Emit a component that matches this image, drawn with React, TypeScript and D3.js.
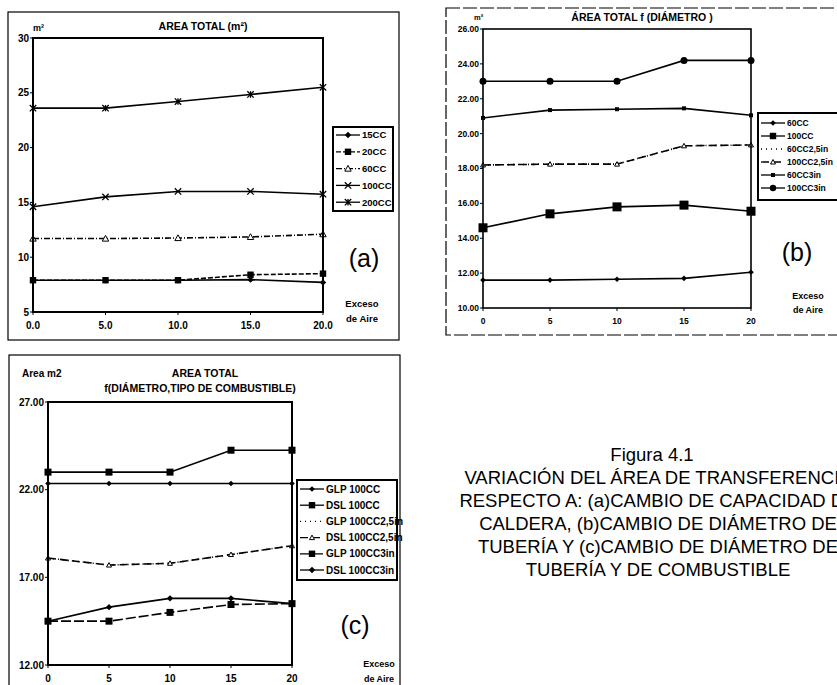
import React from "react";
import * as d3 from "d3";

// ---------- data ----------
const xValues = [0, 5, 10, 15, 20];

// (a) AREA TOTAL vs capacity
const a15CC = [7.9, 7.9, 7.9, 7.95, 7.7];
const a20CC = [7.9, 7.9, 7.9, 8.4, 8.5];
const a60CC = [11.7, 11.7, 11.75, 11.85, 12.1];
const a100CC = [14.6, 15.5, 16.0, 16.0, 15.75];
const a200CC = [23.6, 23.6, 24.2, 24.85, 25.5];
const aYTicks = [5, 10, 15, 20, 25, 30];

// (b) AREA TOTAL f(DIAMETRO)
const b60CC = [11.6, 11.6, 11.65, 11.7, 12.05];
const b100CC = [14.6, 15.4, 15.8, 15.9, 15.55];
const b60CC25 = [18.2, 18.25, 18.25, 19.3, 19.35];
const b100CC25 = [18.2, 18.25, 18.25, 19.3, 19.35];
const b60CC3 = [20.9, 21.35, 21.4, 21.45, 21.05];
const b100CC3 = [23.0, 23.0, 23.0, 24.2, 24.2];
const bYTicks = [10, 12, 14, 16, 18, 20, 22, 24, 26];

// (c) AREA TOTAL f(DIAMETRO, TIPO DE COMBUSTIBLE)
const cGLP100 = [22.35, 22.35, 22.35, 22.35, 22.35];
const cDSL100 = [23.0, 23.0, 23.0, 24.25, 24.25];
const cGLP25 = [18.1, 17.7, 17.8, 18.3, 18.8];
const cDSL25 = [18.1, 17.7, 17.8, 18.3, 18.8];
const cGLP3 = [14.5, 14.5, 15.0, 15.45, 15.5];
const cDSL3 = [14.5, 15.3, 15.8, 15.8, 15.5];
const cYTicks = [12, 17, 22, 27];

const captionLines = [
  "VARIACIÓN DEL ÁREA DE TRANSFERENCIA",
  "RESPECTO A: (a)CAMBIO DE CAPACIDAD DE",
  "CALDERA,  (b)CAMBIO DE DIÁMETRO DE",
  "TUBERÍA Y (c)CAMBIO DE DIÁMETRO DE",
  "TUBERÍA Y DE COMBUSTIBLE",
];

const FONT = "'Liberation Sans', Arial, sans-serif";

type Series = { name: string; values: number[]; marker: string; dash?: string; ms?: number };

function Marker({ type, x, y, s = 3.2 }: { type: string; x: number; y: number; s?: number }) {
  if (type === "diamond")
    return <path d={`M${x},${y - s}L${x + s},${y}L${x},${y + s}L${x - s},${y}Z`} fill="#000" />;
  if (type === "square") return <rect x={x - s} y={y - s} width={2 * s} height={2 * s} fill="#000" />;
  if (type === "triangle")
    return <path d={`M${x},${y - s}L${x + s},${y + s * 0.8}L${x - s},${y + s * 0.8}Z`} fill="#fff" stroke="#000" strokeWidth={1} />;
  if (type === "circle") return <circle cx={x} cy={y} r={s} fill="#000" />;
  if (type === "x")
    return <path d={`M${x - s},${y - s}L${x + s},${y + s}M${x - s},${y + s}L${x + s},${y - s}`} stroke="#000" strokeWidth={1.3} />;
  if (type === "star")
    return (
      <path
        d={`M${x - s},${y - s}L${x + s},${y + s}M${x - s},${y + s}L${x + s},${y - s}M${x},${y - s}L${x},${y + s}`}
        stroke="#000"
        strokeWidth={1.3}
      />
    );
  return null;
}

type ChartProps = {
  plot: { l: number; t: number; r: number; b: number };
  yDomain: [number, number];
  yTicks: number[];
  yFmt: (v: number) => string;
  xFmt: (v: number) => string;
  series: Series[];
  legend: { x: number; y: number; w: number; h: number; first: number; step: number; fs: number };
  tickFs: number;
  borderW: number;
};

function Chart({ plot, yDomain, yTicks, yFmt, xFmt, series, legend, tickFs, borderW }: ChartProps) {
  const x = d3.scaleLinear().domain([0, 20]).range([plot.l, plot.r]);
  const y = d3.scaleLinear().domain(yDomain).range([plot.b, plot.t]);
  const line = d3
    .line<number>()
    .x((_, i) => x(xValues[i]))
    .y((d) => y(d));
  const lx1 = legend.x + 3;
  const lx2 = legend.x + 27;
  return (
    <g>
      {series.map((s) => (
        <g key={s.name}>
          {s.values.length > 0 && (
            <path d={line(s.values) || ""} fill="none" stroke="#000" strokeWidth={1.6} strokeDasharray={s.dash} />
          )}
          {s.values.map((v, i) => (
            <Marker key={i} type={s.marker} x={x(xValues[i])} y={y(v)} s={s.ms} />
          ))}
        </g>
      ))}
      <rect x={plot.l} y={plot.t} width={plot.r - plot.l} height={plot.b - plot.t} fill="none" stroke="#000" strokeWidth={borderW} />
      {yTicks.map((t) => (
        <g key={t}>
          <line x1={plot.l - 3} x2={plot.l} y1={y(t)} y2={y(t)} stroke="#000" strokeWidth={1} />
          <text x={plot.l - 4} y={y(t)} dy="0.35em" textAnchor="end" fontSize={tickFs} fontWeight="bold" fontFamily={FONT}>
            {yFmt(t)}
          </text>
        </g>
      ))}
      {xValues.map((t) => (
        <g key={t}>
          <line x1={x(t)} x2={x(t)} y1={plot.b} y2={plot.b + 3} stroke="#000" strokeWidth={1} />
          <text x={x(t)} y={plot.b + 13} dy="0.35em" textAnchor="middle" fontSize={tickFs} fontWeight="bold" fontFamily={FONT}>
            {xFmt(t)}
          </text>
        </g>
      ))}
      <rect x={legend.x} y={legend.y} width={legend.w} height={legend.h} fill="#fff" stroke="#000" strokeWidth={2} />
      {series.map((s, i) => {
        const ly = legend.first + i * legend.step;
        return (
          <g key={s.name}>
            <line x1={lx1} x2={lx2} y1={ly} y2={ly} stroke="#000" strokeWidth={1.3} strokeDasharray={s.dash} />
            <Marker type={s.marker} x={(lx1 + lx2) / 2} y={ly} s={Math.min(s.ms || 3.2, 3.2)} />
            <text x={lx2 + 2} y={ly} dy="0.35em" fontSize={legend.fs} fontWeight="bold" fontFamily={FONT}>
              {s.name}
            </text>
          </g>
        );
      })}
    </g>
  );
}

export default function App() {
  const f1 = d3.format(".1f");
  const f2 = d3.format(".2f");
  const fi = d3.format("d");

  const seriesA: Series[] = [
    { name: "15CC", values: a15CC, marker: "diamond" },
    { name: "20CC", values: a20CC, marker: "square", dash: "5 2" },
    { name: "60CC", values: a60CC, marker: "triangle", dash: "6 2 1 2" },
    { name: "100CC", values: a100CC, marker: "x" },
    { name: "200CC", values: a200CC, marker: "star" },
  ];
  const seriesB: Series[] = [
    { name: "60CC", values: b60CC, marker: "diamond", ms: 2.8 },
    { name: "100CC", values: b100CC, marker: "square", ms: 4.5 },
    { name: "60CC2,5in", values: b60CC25, marker: "none", dash: "1 4" },
    { name: "100CC2,5in", values: b100CC25, marker: "triangle", dash: "8 4", ms: 2.5 },
    { name: "60CC3in", values: b60CC3, marker: "square", ms: 2 },
    { name: "100CC3in", values: b100CC3, marker: "circle", ms: 3.5 },
  ];
  const seriesC: Series[] = [
    { name: "GLP 100CC", values: cGLP100, marker: "diamond", ms: 2.8 },
    { name: "DSL 100CC", values: cDSL100, marker: "square", ms: 3.5 },
    { name: "GLP 100CC2,5in", values: cGLP25, marker: "none", dash: "1 4" },
    { name: "DSL 100CC2,5in", values: cDSL25, marker: "triangle", dash: "8 4", ms: 2.5 },
    { name: "GLP 100CC3in", values: cGLP3, marker: "square", dash: "10 3", ms: 3.5 },
    { name: "DSL 100CC3in", values: cDSL3, marker: "diamond", ms: 3.2 },
  ];

  return (
    <svg width={837} height={685} style={{ position: "absolute", left: 0, top: 0, background: "#fff" }}>
      <rect x={0} y={0} width={837} height={685} fill="#fff" />

      {/* ---------- (a) ---------- */}
      <rect x={8} y={12} width={391} height={328} fill="none" stroke="#000" strokeWidth={1.2} />
      <text x={203} y={30} textAnchor="middle" fontSize={10.5} fontWeight="bold" fontFamily={FONT}>
        AREA TOTAL (m²)
      </text>
      <text x={33} y={31} fontSize={9} fontWeight="bold" fontFamily={FONT}>
        m²
      </text>
      <Chart
        plot={{ l: 33, t: 38, r: 323, b: 312 }}
        yDomain={[5, 30]}
        yTicks={aYTicks}
        yFmt={fi}
        xFmt={f1}
        series={seriesA}
        legend={{ x: 333, y: 127, w: 60, h: 84, first: 135, step: 16.8, fs: 9.5 }}
        tickFs={10}
        borderW={2}
      />
      <text x={364} y={258} dy="0.35em" textAnchor="middle" fontSize={25} fontFamily={FONT}>
        (a)
      </text>
      <text x={362} y={307} textAnchor="middle" fontSize={9.5} fontWeight="bold" fontFamily={FONT}>
        Exceso
      </text>
      <text x={362} y={322} textAnchor="middle" fontSize={9.5} fontWeight="bold" fontFamily={FONT}>
        de Aire
      </text>

      {/* ---------- (b) ---------- */}
      <rect x={446} y={8} width={400} height={327} fill="none" stroke="#000" strokeWidth={1.2} strokeDasharray="14 3" />
      <text x={642} y={21} textAnchor="middle" fontSize={10.5} fontWeight="bold" fontFamily={FONT}>
        ÁREA TOTAL  f (DIÁMETRO )
      </text>
      <text x={474} y={20} fontSize={7.5} fontWeight="bold" fontFamily={FONT}>
        m²
      </text>
      <Chart
        plot={{ l: 483, t: 29, r: 751, b: 308 }}
        yDomain={[10, 26]}
        yTicks={bYTicks}
        yFmt={f2}
        xFmt={fi}
        series={seriesB}
        legend={{ x: 758, y: 113, w: 90, h: 87, first: 123, step: 13, fs: 8.5 }}
        tickFs={8.5}
        borderW={1.6}
      />
      <text x={797} y={252} dy="0.35em" textAnchor="middle" fontSize={25} fontFamily={FONT}>
        (b)
      </text>
      <text x={808} y={299} textAnchor="middle" fontSize={9} fontWeight="bold" fontFamily={FONT}>
        Exceso
      </text>
      <text x={808} y={313} textAnchor="middle" fontSize={9} fontWeight="bold" fontFamily={FONT}>
        de Aire
      </text>

      {/* ---------- (c) ---------- */}
      <rect x={9} y={355} width={391} height={340} fill="none" stroke="#000" strokeWidth={1.2} />
      <text x={22} y={377} fontSize={10} fontWeight="bold" fontFamily={FONT}>
        Area m2
      </text>
      <text x={205} y={377} textAnchor="middle" fontSize={10.5} fontWeight="bold" fontFamily={FONT}>
        AREA TOTAL
      </text>
      <text x={200} y={392} textAnchor="middle" fontSize={10.5} fontWeight="bold" fontFamily={FONT}>
        f(DIÁMETRO,TIPO DE COMBUSTIBLE)
      </text>
      <Chart
        plot={{ l: 48, t: 402, r: 292, b: 665 }}
        yDomain={[12, 27]}
        yTicks={cYTicks}
        yFmt={f2}
        xFmt={fi}
        series={seriesC}
        legend={{ x: 297, y: 480, w: 100, h: 100, first: 489, step: 16.2, fs: 10 }}
        tickFs={10}
        borderW={2}
      />
      <text x={355} y={625} dy="0.35em" textAnchor="middle" fontSize={25} fontFamily={FONT}>
        (c)
      </text>
      <text x={379} y={667} textAnchor="middle" fontSize={9} fontWeight="bold" fontFamily={FONT}>
        Exceso
      </text>
      <text x={379} y={682} textAnchor="middle" fontSize={9} fontWeight="bold" fontFamily={FONT}>
        de Aire
      </text>

      {/* ---------- caption ---------- */}
      <text x={652} y={461} textAnchor="middle" fontSize={18.5} fontFamily={FONT}>
        Figura 4.1
      </text>
      {captionLines.map((t, i) => (
        <text key={i} x={658} y={484 + i * 23} textAnchor="middle" fontSize={18.5} fontFamily={FONT}>
          {t}
        </text>
      ))}
    </svg>
  );
}
